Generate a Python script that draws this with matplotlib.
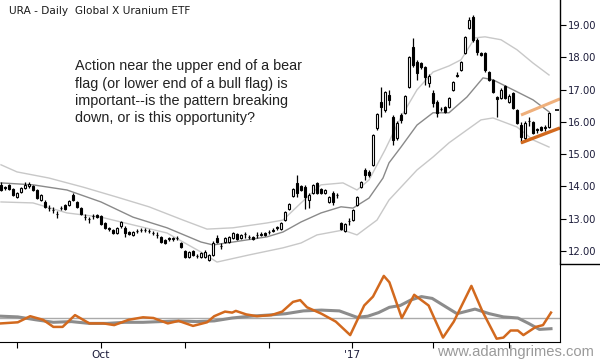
import numpy as np
import matplotlib
matplotlib.use('Agg')
import matplotlib.pyplot as plt
from matplotlib.lines import Line2D

# daily OHLC for URA, late Aug 2016 - mid Mar 2017
opens = [14.05, 13.98, 14.05, 13.92, 13.67, 13.83, 13.95, 14.02, 14.02, 13.89,
         13.58, 13.52, 13.34, 13.28, 13.16, 13.32, 13.43, 13.43, 13.74, 13.52,
         13.33, 13.06, 13.00, 13.07, 13.12, 13.08, 12.87, 12.70, 12.65, 12.56,
         12.78, 12.72, 12.59, 12.50, 12.61, 12.64, 12.66, 12.63, 12.57, 12.51,
         12.44, 12.34, 12.39, 12.37, 12.40, 12.25, 12.00, 11.82, 12.00, 11.86,
         11.82, 11.82, 11.72, 11.88, 12.41, 12.17, 12.28, 12.28, 12.41, 12.53,
         12.41, 12.54, 12.45, 12.44, 12.49, 12.51, 12.56, 12.58, 12.63, 12.71,
         12.68, 12.96, 13.30, 13.71, 14.11, 14.02, 13.98, 13.58, 13.80, 14.11,
         13.92, 13.80, 13.52, 13.80, 13.75, 12.87, 12.62, 12.92, 12.96, 13.43,
         13.98, 14.51, 14.45, 14.67, 15.81, 16.62, 16.37, 16.83, 16.15, 15.50,
         16.21, 16.28, 17.08, 18.32, 17.85, 17.82, 17.70, 17.20, 16.89, 16.62,
         16.41, 16.46, 16.46, 16.99, 17.43, 17.61, 18.13, 18.91, 19.25, 18.54,
         18.13, 18.13, 17.54, 17.30, 16.77, 16.74, 17.11, 16.62, 16.89, 16.37,
         15.90, 15.50, 16.04, 16.00, 15.77, 15.84, 15.82, 15.84]
highs = [14.14, 14.02, 14.08, 13.95, 13.83, 13.98, 14.14, 14.14, 14.05, 13.92,
         13.77, 13.58, 13.43, 13.37, 13.24, 13.40, 13.46, 13.58, 13.80, 13.55,
         13.37, 13.15, 13.05, 13.15, 13.15, 13.12, 12.90, 12.75, 12.68, 12.75,
         12.93, 12.78, 12.62, 12.62, 12.68, 12.72, 12.72, 12.68, 12.62, 12.59,
         12.47, 12.38, 12.44, 12.44, 12.47, 12.28, 12.03, 12.00, 12.03, 11.91,
         11.97, 12.03, 11.91, 12.31, 12.50, 12.25, 12.44, 12.47, 12.59, 12.56,
         12.53, 12.59, 12.50, 12.47, 12.59, 12.59, 12.59, 12.65, 12.72, 12.78,
         12.90, 13.24, 13.49, 13.95, 14.36, 14.05, 14.05, 13.80, 14.08, 14.14,
         13.95, 13.92, 13.71, 13.86, 13.80, 12.90, 12.87, 13.02, 13.30, 13.71,
         14.17, 14.57, 14.51, 15.62, 16.28, 17.08, 16.96, 16.99, 16.21, 16.03,
         16.28, 16.83, 18.04, 18.60, 17.92, 17.85, 17.73, 17.48, 16.99, 16.68,
         16.46, 16.49, 16.77, 17.27, 17.54, 17.88, 18.66, 19.25, 19.31, 18.60,
         18.16, 18.16, 17.58, 17.33, 16.80, 17.05, 17.14, 16.86, 16.93, 16.40,
         16.00, 16.03, 16.15, 16.03, 15.81, 15.87, 15.90, 16.31]
lows = [13.86, 13.89, 13.89, 13.71, 13.64, 13.80, 13.92, 13.95, 13.86, 13.61,
        13.55, 13.33, 13.24, 13.18, 13.02, 13.27, 13.27, 13.40, 13.55, 13.33,
        13.12, 12.96, 12.87, 12.99, 13.02, 12.81, 12.68, 12.62, 12.53, 12.53,
        12.72, 12.44, 12.50, 12.47, 12.56, 12.59, 12.59, 12.56, 12.50, 12.41,
        12.25, 12.22, 12.31, 12.31, 12.34, 12.10, 11.79, 11.79, 11.85, 11.79,
        11.79, 11.79, 11.69, 11.85, 12.25, 12.07, 12.25, 12.25, 12.38, 12.34,
        12.38, 12.41, 12.38, 12.34, 12.41, 12.47, 12.47, 12.53, 12.59, 12.65,
        12.65, 12.93, 13.27, 13.67, 13.67, 13.86, 13.30, 13.33, 13.77, 13.77,
        13.77, 13.77, 13.49, 13.43, 13.64, 12.65, 12.59, 12.81, 12.93, 13.40,
        13.95, 14.20, 14.29, 14.63, 15.75, 16.15, 16.31, 16.52, 15.28, 15.44,
        15.97, 16.24, 17.05, 17.70, 17.30, 17.64, 17.14, 17.08, 16.46, 16.15,
        16.34, 16.28, 16.43, 16.96, 17.39, 17.58, 18.10, 18.88, 18.47, 18.07,
        18.04, 17.54, 17.27, 16.89, 16.15, 16.71, 16.71, 16.59, 16.40, 15.94,
        15.35, 15.44, 15.87, 15.62, 15.66, 15.72, 15.72, 15.81]
closes = [13.89, 13.95, 13.92, 13.74, 13.80, 13.95, 14.05, 14.08, 13.89, 13.64,
          13.74, 13.37, 13.32, 13.26, 13.14, 13.34, 13.30, 13.55, 13.58, 13.37,
          13.15, 13.04, 12.98, 13.09, 13.05, 12.84, 12.72, 12.68, 12.56, 12.72,
          12.90, 12.56, 12.53, 12.59, 12.63, 12.66, 12.64, 12.61, 12.55, 12.49,
          12.28, 12.25, 12.37, 12.39, 12.42, 12.13, 11.82, 11.97, 11.88, 11.84,
          11.94, 11.97, 11.88, 12.25, 12.28, 12.15, 12.41, 12.44, 12.56, 12.38,
          12.50, 12.52, 12.43, 12.38, 12.51, 12.53, 12.50, 12.60, 12.66, 12.73,
          12.87, 13.21, 13.46, 13.92, 13.80, 13.89, 13.67, 13.74, 14.05, 13.80,
          13.80, 13.89, 13.67, 13.52, 13.73, 12.68, 12.84, 12.94, 13.27, 13.67,
          14.14, 14.36, 14.36, 15.59, 16.24, 16.46, 16.93, 16.68, 15.44, 15.97,
          16.06, 16.80, 18.01, 17.76, 17.51, 17.70, 17.39, 17.42, 16.59, 16.28,
          16.39, 16.31, 16.74, 17.24, 17.46, 17.85, 18.63, 19.15, 18.54, 18.16,
          18.07, 17.61, 17.30, 16.93, 16.71, 16.99, 16.74, 16.80, 16.43, 15.97,
          15.53, 15.97, 16.01, 15.66, 15.74, 15.75, 15.84, 16.28]
last_price = 16.37

# channel lines (bar index, price)
mid_idx = [0, 8, 16.5, 25, 33, 41.5, 50, 53, 58, 66.5, 70.5, 75, 80, 85, 88, 92,
           95.5, 97, 100, 104, 108, 112, 116.5, 120.5, 123, 129, 133, 137]
mid_val = [14.11, 14.05, 13.89, 13.52, 13.05, 12.72, 12.28, 12.19, 12.28, 12.44,
           12.59, 12.90, 13.18, 13.37, 13.33, 13.64, 14.26, 14.73, 15.22, 15.90,
           16.28, 16.28, 16.77, 17.36, 17.30, 16.93, 16.68, 16.31]
upper_idx = [0, 4, 12, 20.5, 29, 37, 45.5, 51.5, 58, 66.5, 70.5, 75, 80, 85.5, 89,
             92, 96, 100, 104, 108, 112, 115, 118.5, 121, 125, 129, 133, 137]
upper_val = [14.67, 14.45, 14.26, 13.98, 13.67, 13.37, 12.96, 12.68, 12.72, 12.87,
             12.96, 13.49, 14.05, 14.11, 13.89, 14.20, 15.13, 16.15, 16.99, 17.54,
             17.73, 17.92, 18.60, 18.63, 18.54, 18.23, 17.82, 17.45]
lower_idx = [0, 8, 16.5, 25, 33, 41.5, 50, 54, 62, 70.5, 75, 79, 85.5, 89, 94, 97,
             104, 108, 112, 116.5, 120, 123, 129, 133, 137]
lower_val = [13.52, 13.49, 13.18, 13.05, 12.81, 12.56, 11.97, 11.66, 11.88, 12.10,
             12.25, 12.50, 12.65, 12.50, 12.96, 13.58, 14.51, 14.91, 15.35, 15.75,
             16.06, 16.12, 15.84, 15.44, 15.22]

# flag trendlines
flag_x = [130, 139.75]
flag_low = [15.35, 15.81]
flag_high = [16.21, 16.71]

# oscillator panel
osc_idx = [0, 4.2, 7.3, 10.5, 13.1, 15.4, 18.5, 22.1, 25.6, 28.3, 31.9, 35.5, 38.1,
           41.7, 44.4, 48, 51.5, 53.3, 56, 57.8, 58.7, 61.3, 64, 67.6, 70.3, 73,
           74.8, 76.5, 80.1, 83.7, 87.3, 90.8, 93, 95.7, 97.1, 100.2, 103.3, 106.9,
           110.5, 113.2, 117.6, 120.3, 123.9, 125.6, 127.4, 129.2, 130.6, 133.7,
           135.5, 137.5]
osc_val = [-5.4, -4.3, 1.8, -1.8, -8.9, -8.9, 2.9, -5.4, -5.4, -7.1, -1.8, 0.7, 0,
           -5.4, -2.9, -7.9, -4.3, 1.8, 6.4, 5.4, 7.1, 3.6, 1.8, 2.9, 6.4, 16.1,
           17.9, 10.7, 4.3, -3.6, -17.1, 12.5, 21.4, 42.1, 35.7, 0, 23.2, 12.5,
           -19.6, -3.6, 32.1, 7.1, -20.7, -19.6, -12.5, -12.5, -17.1, -8.9, -7.1,
           5.4]
sig_idx = [0, 4.2, 8.7, 13.1, 17.6, 22.1, 26.5, 31, 35.5, 39.9, 44.4, 48.9, 53.3,
           57.8, 62.3, 66.7, 71.2, 75.6, 80.1, 84.6, 89, 91.7, 94.4, 97.1, 99.8,
           102.4, 105.1, 107.8, 111.4, 114, 118.5, 122.1, 125.6, 129.2, 131.9,
           134.6, 137.5]
sig_val = [1.8, 1.1, -1.8, -4.3, -3.6, -5.4, -5.4, -4.3, -4.3, -3.6, -2.9, -3.6,
           -2.9, 0, 1.8, 2.9, 4.3, 7.1, 7.9, 7.1, 0.7, 1.8, 5.4, 10.7, 12.5, 17.9,
           21.4, 19.6, 10.7, 4.3, 8.9, 4.3, 1.1, 0, -5.4, -11.4, -10.7]

price_ticks = [12, 13, 14, 15, 16, 17, 18, 19]
month_ticks = [4, 25, 46, 67, 87.75, 108, 127]
month_labels = ['', 'Oct', '', '', "'17", '', '']

ORANGE = '#d2691e'
LABEL = '#1c1c3a'

fig = plt.figure(figsize=(6, 3.6), dpi=100)
ax = fig.add_axes([0, 1 - 264 / 360, 560 / 600, 264 / 360])
ax2 = fig.add_axes([0, 1 - 342 / 360, 560 / 600, 78 / 360])

x = np.arange(len(closes))
o = np.array(opens)
c = np.array(closes)
up = c >= o

ax.plot(upper_idx, upper_val, color='#c8c8c8', lw=1)
ax.plot(lower_idx, lower_val, color='#c8c8c8', lw=1)
ax.plot(mid_idx, mid_val, color='#8a8a8a', lw=1)

ax.vlines(x, lows, highs, color='black', lw=0.9)
body_lo = np.minimum(o, c)
body_h = np.maximum(np.abs(c - o), 0.005)
ax.bar(x, body_h, bottom=body_lo, width=0.72,
       color=np.where(up, 'white', 'black'), edgecolor='black', lw=0.8, zorder=3)
ax.hlines(last_price, len(closes) + 0.5, len(closes) + 1.6, color='black', lw=1.2)

ax.plot(flag_x, flag_high, color='#efb07c', lw=2.2, solid_capstyle='butt')
ax.plot(flag_x, flag_low, color=ORANGE, lw=2.4, solid_capstyle='butt')

ax.set_xlim(-0.25, 139.75)
ax.set_ylim(11.60, 19.77)
for s in ['left', 'top', 'bottom']:
    ax.spines[s].set_visible(False)
ax.spines['right'].set_linewidth(1)
ax.yaxis.tick_right()
ax.set_yticks(price_ticks)
ax.set_yticklabels([f'{p:.2f}' for p in price_ticks])
ax.tick_params(axis='y', direction='out', length=4, width=0.8, pad=2,
               labelsize=7.2, labelcolor=LABEL)
ax.set_xticks([])

ax.text(2, 19.58, 'URA - Daily  Global X Uranium ETF', fontsize=7.6,
        color='#1a1a1a', family='DejaVu Sans', va='top', ha='left')
ax.text(18.5, 17.93,
        'Action near the upper end of a bear\n'
        'flag (or lower end of a bull flag) is\n'
        'important--is the pattern breaking\n'
        'down, or is this opportunity?',
        fontsize=10.4, family='Liberation Sans', color='#222222',
        va='top', ha='left', linespacing=1.3)

ax2.axhline(0, color='#aaaaaa', lw=1)
ax2.plot(sig_idx, sig_val, color='#8c8c8c', lw=2.2)
ax2.plot(osc_idx, osc_val, color=ORANGE, lw=1.8)
ax2.set_xlim(-0.25, 139.75)
ax2.set_ylim(-24, 54)
for s in ['left', 'top']:
    ax2.spines[s].set_visible(False)
ax2.set_yticks([])
ax2.set_xticks(month_ticks)
ax2.set_xticklabels(month_labels)
ax2.tick_params(axis='x', direction='out', length=4, width=0.8, pad=1.5,
                labelsize=7.6, labelcolor=LABEL)

# separator between the price scale and the oscillator scale
fig.add_artist(Line2D([560 / 600, 1], [1 - 264 / 360] * 2, color='black', lw=1))
fig.text(594 / 600, 1 - 352 / 360, 'www.adamhgrimes.com', fontsize=10.6,
         family='Liberation Sans', color='#9a9a9a', ha='right', va='center')

fig.savefig('out.png', dpi=100)
